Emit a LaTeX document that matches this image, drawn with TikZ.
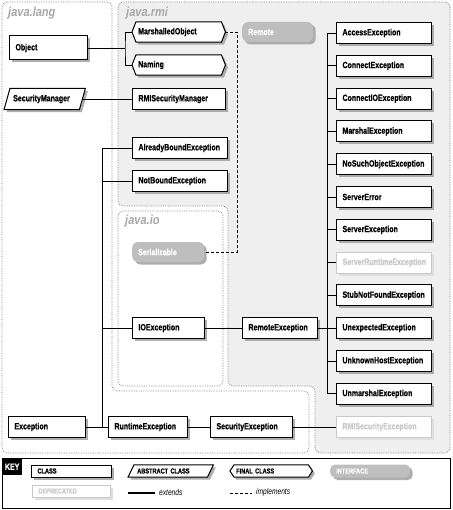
\documentclass[tikz,border=0pt]{standalone}
\usepackage{fontspec}
\setmainfont{Liberation Sans}
\newfontfamily\bxfam[FakeStretch=0.78]{Liberation Sans}
\newfontfamily\boxfam[FakeStretch=0.78, FakeBold=0.6]{Liberation Sans}
\newfontfamily\ttlfam[FakeStretch=0.85]{Liberation Sans}
\usetikzlibrary{shadows,calc}
\definecolor{rmigray}{HTML}{EFEFEF}
\definecolor{dotgray}{HTML}{808080}
\definecolor{titlegray}{HTML}{A8A8A8}
\definecolor{ifgray}{HTML}{BEBEBE}
\definecolor{depgray}{HTML}{C8C8C8}
\definecolor{shgray}{HTML}{9A9A9A}
\pgfdeclarelayer{regions}
\pgfdeclarelayer{shapes}
\pgfsetlayers{regions,shapes,main}
\begin{document}
\begin{tikzpicture}[x=1pt,y=-1pt,
 region/.style={draw=dotgray, densely dotted, line width=0.7pt, rounded corners=5pt},
 regtitle/.style={font=\ttlfam\bfseries\itshape\fontsize{13}{13}\selectfont, text=titlegray, anchor=west, inner sep=0pt},
 boxbase/.style={text width=#1, inner xsep=6pt, inner ysep=0pt, minimum height=21pt, align=left, anchor=west, font=\boxfam\bfseries\fontsize{9}{10}\selectfont},
 myshadow/.style={drop shadow={shadow xshift=2.5pt, shadow yshift=-2.5pt, fill=shgray, opacity=0.8}},
 cls/.style={boxbase=#1, draw=black, line width=1pt, fill=white, myshadow},
 dep/.style={boxbase=#1, draw=depgray, line width=1pt, fill=white, text=depgray, drop shadow={shadow xshift=2.5pt, shadow yshift=-2.5pt, fill=black!12, opacity=1}},
 iface/.style={boxbase=#1, fill=ifgray, text=white, rounded corners=6pt, myshadow},
 bare/.style={boxbase=#1},
 shapeline/.style={draw=black, line width=1pt, fill=white, myshadow},
 link/.style={draw=black, line width=0.9pt},
 impl/.style={draw=black, line width=0.6pt, dash pattern=on 3pt off 2pt},
 keyfont/.style={font=\boxfam\bfseries\fontsize{7.2}{8}\selectfont},
]
\useasboundingbox (0,0) rectangle (452,510);

% ---------- regions ----------
\begin{pgfonlayer}{regions}
\fill[white] (0,0) rectangle (452,510);
\path[region, fill=white] (2,2) -- (112,2) -- (112,391) -- (309,391) -- (309,453) -- (2,453) -- cycle;
\path[region, fill=rmigray] (118,2) -- (450,2) -- (450,453) -- (315,453) -- (315,386) -- (228,386) -- (228,206) -- (118,206) -- cycle;
\path[region, fill=white] (118,211) rectangle (223,386);
\end{pgfonlayer}

\node[regtitle] (tl) at (8,13) {java.lang};
\node[regtitle] (tr) at (126,13) {java.rmi};
\node[regtitle] (ti) at (125,221) {java.io};

% ---------- java.lang ----------
\node[cls=66pt, minimum height=24pt] (obj) at (9,48) {Object};
\node[bare=63pt] (sm) at (7,99) {SecurityManager};
\node[cls=65pt] (exc) at (8,427) {Exception};
\node[cls=67pt] (rte) at (108,427) {RuntimeException};
\node[cls=70pt] (sce) at (210,427) {SecurityException};

% ---------- java.rmi middle ----------
\node[bare=81pt, minimum height=20pt] (mo) at (132,32) {MarshalledObject};
\node[bare=81pt, minimum height=20pt] (nm) at (132,65) {Naming};
\node[cls=81pt] (rsm) at (132,99) {RMISecurityManager};
\node[cls=83pt] (abe) at (132,148) {AlreadyBoundException};
\node[cls=83pt] (nbe) at (132,181) {NotBoundException};
\node[iface=60pt, minimum height=20pt] (ser) at (132,252) {Serializable};
\node[cls=60pt] (ioe) at (132,328) {IOException};

\node[iface=59pt, minimum height=20pt] (rem) at (242,32) {Remote};
\node[cls=63pt] (rex) at (242,328) {RemoteException};

% ---------- right column ----------
\node[cls=83pt] (ae) at (336,33) {AccessException};
\node[cls=83pt] (ce) at (336,65.8) {ConnectException};
\node[cls=83pt] (cioe) at (336,98.6) {ConnectIOException};
\node[cls=83pt] (me) at (336,131.4) {MarshalException};
\node[cls=83pt] (nsoe) at (336,164.2) {NoSuchObjectException};
\node[cls=83pt] (se) at (336,197) {ServerError};
\node[cls=83pt] (sex) at (336,229.8) {ServerException};
\node[dep=83pt] (sre) at (336,262.6) {ServerRuntimeException};
\node[cls=83pt] (snfe) at (336,295.4) {StubNotFoundException};
\node[cls=83pt] (ue) at (336,328) {UnexpectedException};
\node[cls=83pt] (uhe) at (336,361) {UnknownHostException};
\node[cls=83pt] (um) at (336,393.8) {UnmarshalException};
\node[dep=83pt] (rse) at (336,427) {RMISecurityException};

% ---------- special shapes ----------
\begin{pgfonlayer}{shapes}
\path[shapeline] ([xshift=3pt]sm.north west) -- ([xshift=3pt]sm.north east) -- ([xshift=-3pt]sm.south east) -- ([xshift=-3pt]sm.south west) -- cycle;
\path[shapeline] (mo.west) -- ([xshift=4pt]mo.north west) -- ([xshift=-4pt]mo.north east) -- (mo.east) -- ([xshift=-4pt]mo.south east) -- ([xshift=4pt]mo.south west) -- cycle;
\path[shapeline] (nm.west) -- ([xshift=4pt]nm.north west) -- ([xshift=-4pt]nm.north east) -- (nm.east) -- ([xshift=-4pt]nm.south east) -- ([xshift=4pt]nm.south west) -- cycle;
\end{pgfonlayer}

% ---------- connectors ----------
\coordinate (jo) at (125,48);
\draw[link] (obj.east) -- (jo);
\draw[link] (mo.west) -| (jo) |- (nm.west);
\draw[link] (sm.east) -- (rsm.west);

\coordinate (je) at (102,427);
\draw[link] (abe.west) -| (je);
\draw[link] (nbe.west) -- (nbe.west -| je);
\draw[link] (ioe.west) -- (ioe.west -| je);
\draw[link] (exc.east) -- (rte.west);
\draw[link] (rte.east) -- (sce.west);
\draw[link] (sce.east) -- (rse.west);
\draw[link] (ioe.east) -- (rex.west);

\coordinate (jr) at (327,328);
\draw[link] (ae.west) -| (jr);
\draw[link] (um.west) -| (jr);
\foreach \n in {ce,cioe,me,nsoe,se,sex,sre,snfe,uhe}
  \draw[link] (\n.west) -- (\n.west -| jr);
\draw[link] (rex.east) -- (ue.west);

\coordinate (jd) at (237,140);
\draw[impl] (mo.east) -| (jd) |- (ser.east);

% ---------- key ----------
\draw[line width=0.6pt] (2,458) rectangle (450,508);
\node[fill=black, text=white, minimum width=20pt, minimum height=17pt, anchor=north west, inner sep=0pt, font=\boxfam\bfseries\fontsize{9}{9}\selectfont] (key) at (2,458) {KEY};
\node[cls=68pt, minimum height=12pt, keyfont] (kc) at (31,471) {CLASS};
\node[bare=67pt, minimum height=12pt, keyfont] (ka) at (131,471) {ABSTRACT CLASS};
\node[bare=70pt, minimum height=12pt, keyfont] (kf) at (230,471) {FINAL CLASS};
\node[iface=68pt, minimum height=13pt, rounded corners=5pt, keyfont] (ki) at (330,471) {INTERFACE};
\node[dep=66pt, minimum height=12pt, keyfont] (kd) at (32,491) {DEPRECATED};
\begin{pgfonlayer}{shapes}
\path[shapeline] ([xshift=3pt]ka.north west) -- ([xshift=3pt]ka.north east) -- ([xshift=-3pt]ka.south east) -- ([xshift=-3pt]ka.south west) -- cycle;
\path[shapeline] (kf.west) -- ([xshift=4pt]kf.north west) -- ([xshift=-4pt]kf.north east) -- (kf.east) -- ([xshift=-4pt]kf.south east) -- ([xshift=4pt]kf.south west) -- cycle;
\end{pgfonlayer}
\coordinate (ea) at (128,493);
\coordinate (eb) at (155,493);
\draw[link, line width=1.2pt] (ea) -- (eb);
\node[anchor=west, inner sep=0pt, font=\bxfam\itshape\fontsize{8.5}{9}\selectfont] (ke) at (159,492) {extends};
\coordinate (ia) at (230,493);
\coordinate (ib) at (252,493);
\draw[impl] (ia) -- (ib);
\node[anchor=west, inner sep=0pt, font=\bxfam\itshape\fontsize{8.5}{9}\selectfont] (kim) at (256,492) {implements};
\end{tikzpicture}
\end{document}
